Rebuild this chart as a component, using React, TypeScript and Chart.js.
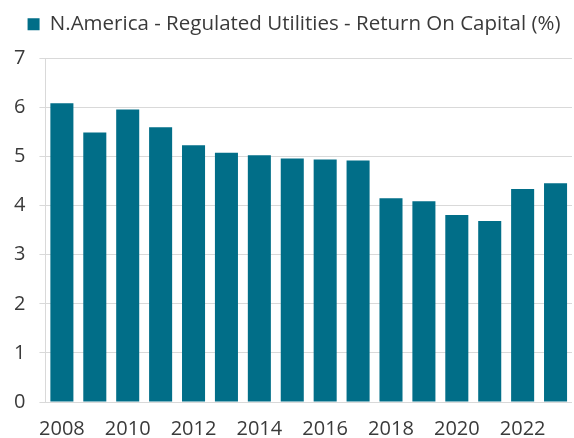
import React, { useEffect, useRef } from "react";
import { Chart, registerables } from "chart.js";

Chart.register(...registerables);

const years = ["2008","2009","2010","2011","2012","2013","2014","2015","2016","2017","2018","2019","2020","2021","2022","2023"];
const returnOnCapital = [6.09, 5.49, 5.96, 5.60, 5.23, 5.08, 5.03, 4.96, 4.94, 4.92, 4.15, 4.09, 3.81, 3.69, 4.34, 4.46];
const seriesLabel = "N.America - Regulated Utilities - Return On Capital (%)";
const yTicks = [0, 1, 2, 3, 4, 5, 6, 7];

const FONT = "'Open Sans', 'Noto Sans', sans-serif";
const TEXT = "#3a3a3a";
const GRID = "#d9d9d9";
const BAR = "#016e88";

const legendGap = {
  id: "legendGap",
  beforeInit(chart: any) {
    const orig = chart.legend.fit;
    chart.legend.fit = function () {
      orig.call(this);
      this.height += 14;
    };
  },
  afterLayout(chart: any) {
    chart.legend.left += 8;
    chart.legend.right += 8;
  },
};

export default function App() {
  const ref = useRef<HTMLCanvasElement | null>(null);
  useEffect(() => {
    if (!ref.current) return;
    const chart = new Chart(ref.current, {
      type: "bar",
      data: {
        labels: years,
        datasets: [
          {
            label: seriesLabel,
            data: returnOnCapital,
            backgroundColor: BAR,
            borderWidth: 0,
            categoryPercentage: 1,
            barPercentage: 0.7,
          },
        ],
      },
      plugins: [legendGap],
      options: {
        animation: false,
        responsive: false,
        maintainAspectRatio: false,
        layout: { padding: { left: 0, right: 2, top: 4, bottom: -10 } },
        plugins: {
          tooltip: { enabled: false },
          legend: {
            display: true,
            position: "top",
            align: "center",
            labels: {
              boxWidth: 12,
              boxHeight: 12,
              padding: 10,
              color: TEXT,
              font: { family: FONT, size: 20.5 },
            },
          },
        },
        scales: {
          x: {
            grid: { display: false },
            border: { display: false },
            ticks: {
              autoSkip: false,
              maxRotation: 0,
              padding: 7,
              color: TEXT,
              font: { family: FONT, size: 20 },
              callback: (_v: any, i: number) => (i % 2 === 0 ? years[i] : ""),
            },
          },
          y: {
            min: yTicks[0],
            max: yTicks[yTicks.length - 1],
            afterBuildTicks: (axis: any) => {
              axis.ticks = yTicks.map((v) => ({ value: v }));
            },
            grid: { color: GRID, lineWidth: 1, tickLength: 6 },
            border: { display: true, color: GRID, width: 1 },
            ticks: {
              padding: 14,
              color: TEXT,
              font: { family: FONT, size: 20 },
            },
          },
        },
      },
    });
    return () => chart.destroy();
  }, []);
  return (
    <div style={{ position: "fixed", left: 0, top: 0, width: 574, height: 438, background: "#fff" }}>
      <canvas ref={ref} width={574} height={438} style={{ width: 574, height: 438 }} />
    </div>
  );
}
